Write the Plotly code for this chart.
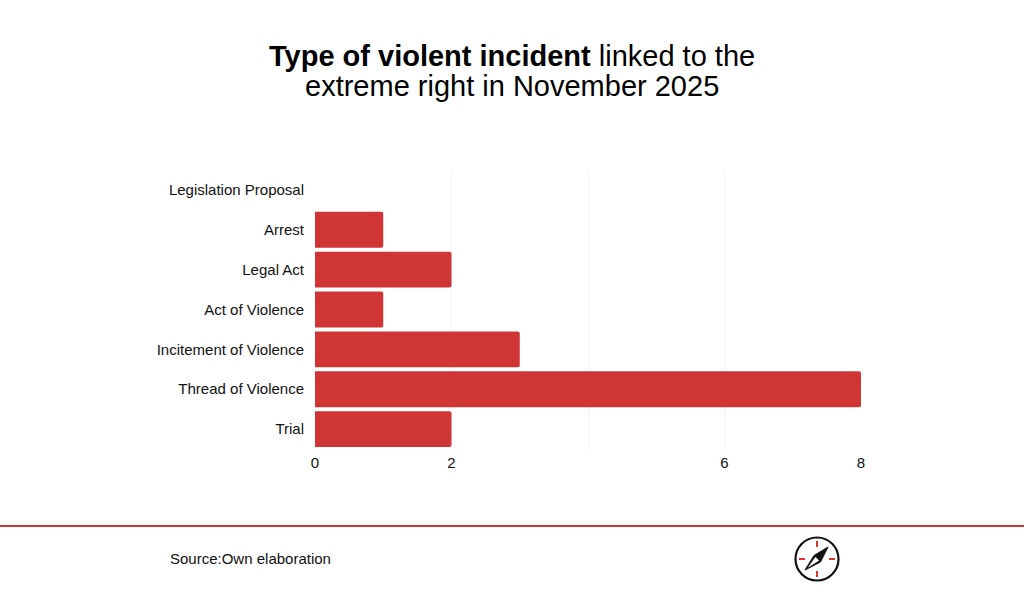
import plotly.graph_objects as go

# data
categories = ["Legislation Proposal", "Arrest", "Legal Act", "Act of Violence",
              "Incitement of Violence", "Thread of Violence", "Trial"]
counts = [0, 1, 2, 1, 3, 8, 2]
tick_vals = [0, 2, 4, 6, 8]
tick_text = ["0", "2", "", "6", "8"]

W, H = 1024, 594
L, R, T, B = 315, 163, 170, 145
pw, ph = W - L - R, H - T - B


def px(x):
    return (x - L) / pw


def py(y):
    return (H - B - y) / ph


bars = go.Bar(x=counts, y=categories, orientation="h",
              marker=dict(color="#d03536", cornerradius=2, line=dict(width=0)),
              hoverinfo="x+y")

fig = go.Figure(data=[bars])

fig.update_layout(
    width=W, height=H,
    margin=dict(l=L, r=R, t=T, b=B),
    paper_bgcolor="white", plot_bgcolor="white",
    font=dict(family="Liberation Sans, Arial, sans-serif", color="#111111", size=15),
    bargap=0.1,
    showlegend=False,
    xaxis=dict(range=[0, 8], tickvals=tick_vals, ticktext=tick_text,
               showgrid=True, gridcolor="#f3f3f3", gridwidth=1,
               zeroline=False, showline=False, ticks="", fixedrange=True,
               ticklabelstandoff=3,
               tickfont=dict(size=15, color="#111111")),
    yaxis=dict(autorange="reversed", showgrid=False, zeroline=False,
               ticks="", ticklabelstandoff=10, fixedrange=True,
               tickfont=dict(size=15, color="#111111")),
)

# title, two lines set as separate texts to keep the tight line spacing
fig.add_annotation(text="<b>Type of violent incident</b> linked to the",
                   xref="paper", yref="paper", x=px(512), y=py(56),
                   xanchor="center", yanchor="middle", showarrow=False,
                   font=dict(size=29, color="#000000"))
fig.add_annotation(text="extreme right in November 2025",
                   xref="paper", yref="paper", x=px(512), y=py(86),
                   xanchor="center", yanchor="middle", showarrow=False,
                   font=dict(size=29, color="#000000"))

shapes = []
# footer rule
shapes.append(dict(type="line", xref="paper", yref="paper",
                   x0=px(0), x1=px(W), y0=py(526), y1=py(526),
                   line=dict(color="#d03536", width=2)))

# compass logo
cx, cy, r = 817, 559, 21.5
shapes.append(dict(type="circle", xref="paper", yref="paper",
                   x0=px(cx - r), x1=px(cx + r), y0=py(cy + r), y1=py(cy - r),
                   line=dict(color="#111111", width=2.2), fillcolor="white"))
for dx, dy in [(0, -1), (0, 1), (1, 0), (-1, 0)]:
    shapes.append(dict(type="line", xref="paper", yref="paper",
                       x0=px(cx + dx * 12), x1=px(cx + dx * 18),
                       y0=py(cy + dy * 12), y1=py(cy + dy * 18),
                       line=dict(color="#e0332c", width=2)))


def pt(x, y):
    return f"{px(x):.5f},{py(y):.5f}"


needle = ("M " + pt(cx + 11, cy - 12) + " L " + pt(cx + 3.5, cy + 3) +
          " L " + pt(cx - 12, cy + 11) + " L " + pt(cx - 3, cy - 3.5) + " Z")
shapes.append(dict(type="path", xref="paper", yref="paper", path=needle,
                   fillcolor="#111111", line=dict(color="#111111", width=1)))
inner = ("M " + pt(cx - 1.5, cy - 1.8) + " L " + pt(cx + 1.8, cy + 1.5) +
         " L " + pt(cx - 8.5, cy + 8) + " Z")
shapes.append(dict(type="path", xref="paper", yref="paper", path=inner,
                   fillcolor="white", line=dict(color="white", width=0.5)))
fig.update_layout(shapes=shapes)

fig.add_annotation(text="Source:Own elaboration", xref="paper", yref="paper",
                   x=px(168), y=py(558), xanchor="left", yanchor="middle",
                   showarrow=False, font=dict(size=15, color="#111111"))

fig.write_html("out.html", config={"displayModeBar": False},
               post_script="document.body.style.margin='0';")
